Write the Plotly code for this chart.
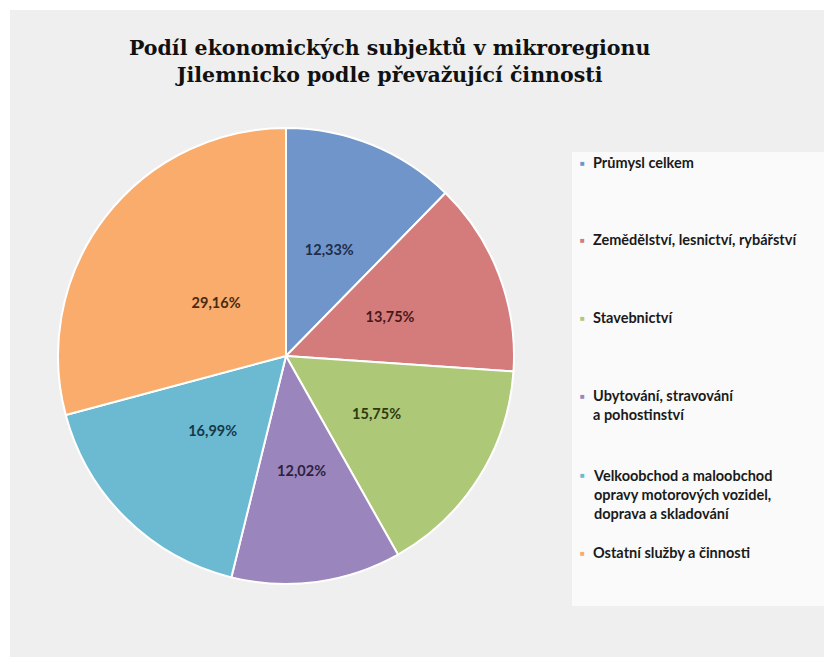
import plotly.graph_objects as go

# ---- data ----
categories = [
    "Průmysl celkem",
    "Zemědělství, lesnictví, rybářství",
    "Stavebnictví",
    "Ubytování, stravování<br>a pohostinství",
    "Velkoobchod a maloobchod<br>opravy motorových vozidel,<br>doprava a skladování",
    "Ostatní služby a činnosti",
]
shares = [12.33, 13.75, 15.75, 12.02, 16.99, 29.16]
slice_colors = ["#6f95cb", "#d47c7b", "#adc877", "#9a86bc", "#6bbad2", "#f9ac6c"]
label_colors = ["#1f2d4a", "#4a1818", "#2c3a12", "#2e2240", "#173848", "#4a2a10"]
title_lines = ["Podíl ekonomických subjektů v mikroregionu",
               "Jilemnicko podle převažující činnosti"]
legend_y_px = [163, 240, 318, 405, 494, 552]

# page has an 8px body margin; figure occupies 8..832 x 8..657
OFF = 8
W, H = 832 - OFF, 657 - OFF
def px_x(x):
    return (x - OFF) / W
def px_y(y):
    return 1 - (y - OFF) / H

labels_txt = [f"{v:.2f}".replace(".", ",") + "%" for v in shares]
plain_names = [c.replace("<br>", " ") for c in categories]

CX, CY, R = 286, 356, 228
R_TXT = 158

fig = go.Figure()
fig.add_trace(go.Pie(
    labels=plain_names,
    values=shares,
    textinfo="none",
    sort=False,
    direction="clockwise",
    rotation=0,
    marker=dict(colors=slice_colors, line=dict(color="white", width=2)),
    domain=dict(x=[px_x(CX - R), px_x(CX + R)], y=[px_y(CY + R), px_y(CY - R)]),
    showlegend=False,
    hoverinfo="label+percent",
))
# transparent inner pie that only carries the percentage labels
fig.add_trace(go.Pie(
    labels=plain_names,
    values=shares,
    text=labels_txt,
    texttemplate="%{text}",
    textposition="inside",
    insidetextorientation="horizontal",
    insidetextfont=dict(family="Lato", size=14.5, color=label_colors, weight="bold"),
    sort=False,
    direction="clockwise",
    rotation=0,
    marker=dict(colors=["rgba(0,0,0,0)"] * len(shares), line=dict(width=0)),
    domain=dict(x=[px_x(CX - R_TXT), px_x(CX + R_TXT)], y=[px_y(CY + R_TXT), px_y(CY - R_TXT)]),
    showlegend=False,
    hoverinfo="skip",
))

shapes = [
    dict(type="rect", xref="paper", yref="paper", x0=px_x(10), x1=1, y0=0, y1=px_y(10),
         fillcolor="#efefef", line=dict(width=0), layer="below"),
    dict(type="rect", xref="paper", yref="paper", x0=px_x(572), x1=1, y0=px_y(606), y1=px_y(152),
         fillcolor="#fafafa", line=dict(width=0), layer="below"),
]

annotations = [
    dict(text="<b>" + "<br>".join(title_lines) + "</b>", x=px_x(389), y=px_y(61),
         xref="paper", yref="paper", showarrow=False, xanchor="center", yanchor="middle",
         font=dict(family="DejaVu Serif", size=20.5, color="#111111"), align="center"),
]
for cat, col, ly in zip(categories, slice_colors, legend_y_px):
    n = cat.count("<br>") + 1
    top = ly - (n - 1) * 19 / 2
    annotations.append(dict(text="■", x=px_x(582), y=px_y(top), xref="paper", yref="paper",
                            showarrow=False, xanchor="center", yanchor="middle",
                            font=dict(size=8, color=col)))
    annotations.append(dict(text=cat, x=px_x(591), y=px_y(ly), xref="paper", yref="paper",
                            showarrow=False, xanchor="left", yanchor="middle", align="left",
                            font=dict(family="Lato", size=14.5, color="#1a1a1a", weight="bold")))

fig.update_layout(
    width=W, height=H,
    margin=dict(l=0, r=0, t=0, b=0),
    paper_bgcolor="white",
    plot_bgcolor="white",
    shapes=shapes,
    annotations=annotations,
    showlegend=False,
)

fig.write_html("out.html")
